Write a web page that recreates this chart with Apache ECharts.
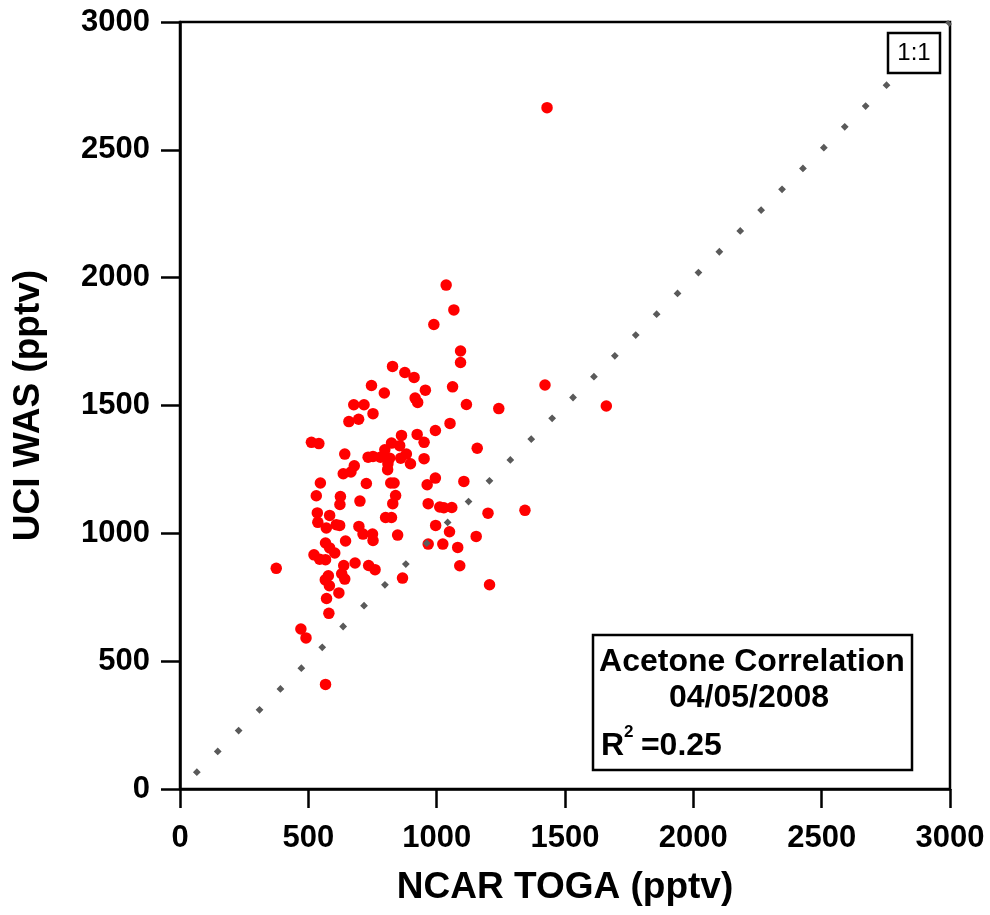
<!DOCTYPE html>
<html>
<head>
<meta charset="utf-8">
<script src="https://cdn.jsdelivr.net/npm/echarts@6/dist/echarts.min.js"></script>
<style>
html,body{margin:0;padding:0;background:#fff;}
#chart{width:990px;height:915px;}
</style>
</head>
<body>
<div id="chart"></div>
<script>
// NCAR TOGA acetone (pptv), x values
const ncarToga = [
  1430, 1037, 1067, 989, 1093, 1093, 1062, 1422, 1116, 1242, 1661, 1052, 995, 1158,
  828, 876, 912, 746, 796, 956, 916, 926, 677, 717, 752, 658, 696, 924, 951, 863,
  512, 541, 642, 824, 856, 798, 733, 752, 781, 817, 860, 882, 898, 951, 810, 809,
  679, 666, 636, 547, 726, 821, 834, 963, 995, 1106, 531, 625, 623, 701, 840, 829,
  967, 1012, 1028, 1059, 535, 583, 801, 824, 1200, 1344, 537, 570, 609, 622, 697,
  713, 750, 752, 848, 996, 1050, 1154, 967, 1024, 1082, 645, 567, 583, 603, 522,
  544, 567, 682, 735, 760, 375, 638, 630, 642, 578, 566, 582, 619, 867, 1090, 1206,
  571, 580, 471, 491, 567
];
// UCI WAS acetone (pptv), y values
const uciWas = [
  2665, 1971, 1874, 1817, 1713, 1668, 1573, 1580, 1504, 1488, 1498, 1430, 1402, 1333,
  1653, 1629, 1610, 1578, 1549, 1560, 1529, 1512, 1503, 1503, 1468, 1437, 1446, 1387, 1356, 1383,
  1356, 1351, 1310, 1353, 1343, 1327, 1298, 1301, 1298, 1294, 1294, 1310, 1272, 1292, 1272, 1249,
  1264, 1240, 1233, 1197, 1195, 1197, 1197, 1190, 1216, 1203, 1147, 1144, 1113, 1126, 1148, 1116,
  1116, 1103, 1100, 1101, 1080, 1070, 1062, 1062, 1079, 1090, 1043, 1021, 1034, 1031, 1027,
  997, 997, 972, 993, 1031, 1006, 988, 958, 958, 945, 970, 962, 943, 923, 916,
  899, 897, 884, 874, 858, 863, 874, 842, 821, 834, 818, 795, 767, 825, 873, 799,
  745, 687, 626, 591, 409
];
// 1:1 reference line end points
const oneToOneX = [58, 3000];
const oneToOneY = [58, 3000];
// axis ticks
const tickValues = [0, 500, 1000, 1500, 2000, 2500, 3000];

const FONT = "'Liberation Sans', Arial, Helvetica, sans-serif";
const points = ncarToga.map((x, i) => [x, uciWas[i]]);
const linePts = oneToOneX.map((x, i) => [x, oneToOneY[i]]);

const chart = echarts.init(document.getElementById('chart'), null, {renderer: 'canvas'});

const axisCommon = {
  type: 'value',
  min: tickValues[0],
  max: tickValues[tickValues.length - 1],
  interval: tickValues[1] - tickValues[0],
  nameLocation: 'middle',
  nameTextStyle: {fontFamily: FONT, fontWeight: 'bold', fontSize: 37, color: '#000'},
  axisLine: {show: true, onZero: false, lineStyle: {color: '#000', width: 2.5}},
  axisTick: {show: true, inside: false, length: 19, lineStyle: {color: '#000', width: 2.5}},
  splitLine: {show: false},
  axisLabel: {fontFamily: FONT, fontWeight: 'bold', fontSize: 31, color: '#000',
    formatter: v => String(v)}
};

chart.setOption({
  animation: false,
  backgroundColor: '#fff',
  grid: {left: 180, top: 22, width: 770, height: 767, show: true,
    borderColor: '#000', borderWidth: 2.5, backgroundColor: 'transparent'},
  xAxis: Object.assign({}, axisCommon, {
    name: 'NCAR TOGA (pptv)', nameGap: 80,
    axisLabel: Object.assign({}, axisCommon.axisLabel, {margin: 34})
  }),
  yAxis: Object.assign({}, axisCommon, {
    name: 'UCI WAS (pptv)', nameGap: 133,
    axisLabel: Object.assign({}, axisCommon.axisLabel, {margin: 30})
  }),
  series: [
    {
      type: 'scatter',
      data: points,
      symbol: 'circle',
      symbolSize: 11.5,
      itemStyle: {color: '#ff0000', opacity: 1},
      z: 2
    },
    {
      type: 'line',
      data: linePts,
      symbol: 'none',
      lineStyle: {color: '#5a5a5a', width: 5.5, type: [5.5, 24], cap: 'butt', opacity: 1},
      z: 3
    }
  ],
  graphic: [
    {type: 'rect', z: 10, shape: {x: 888, y: 33, width: 52, height: 40},
      style: {fill: '#fff', stroke: '#000', lineWidth: 2.5}},
    {type: 'text', z: 11, style: {text: '1:1', x: 914, y: 53, align: 'center', verticalAlign: 'middle',
      font: "24px 'Liberation Sans', Arial, sans-serif", fill: '#000'}},
    {type: 'rect', z: 10, shape: {x: 593, y: 635, width: 319, height: 135},
      style: {fill: '#fff', stroke: '#000', lineWidth: 2.5}},
    {type: 'text', z: 11, style: {text: 'Acetone Correlation', x: 752, y: 662, align: 'center', verticalAlign: 'middle',
      font: "bold 32px 'Liberation Sans', Arial, sans-serif", fill: '#000'}},
    {type: 'text', z: 11, style: {text: '04/05/2008', x: 749, y: 698, align: 'center', verticalAlign: 'middle',
      font: "bold 32px 'Liberation Sans', Arial, sans-serif", fill: '#000'}},
    {type: 'text', z: 11, style: {text: 'R', x: 601, y: 746, align: 'left', verticalAlign: 'middle',
      font: "bold 32px 'Liberation Sans', Arial, sans-serif", fill: '#000'}},
    {type: 'text', z: 11, style: {text: '2', x: 624, y: 732, align: 'left', verticalAlign: 'middle',
      font: "bold 17px 'Liberation Sans', Arial, sans-serif", fill: '#000'}},
    {type: 'text', z: 11, style: {text: ' =0.25', x: 632, y: 746, align: 'left', verticalAlign: 'middle',
      font: "bold 32px 'Liberation Sans', Arial, sans-serif", fill: '#000'}}
  ]
});
</script>
</body>
</html>
